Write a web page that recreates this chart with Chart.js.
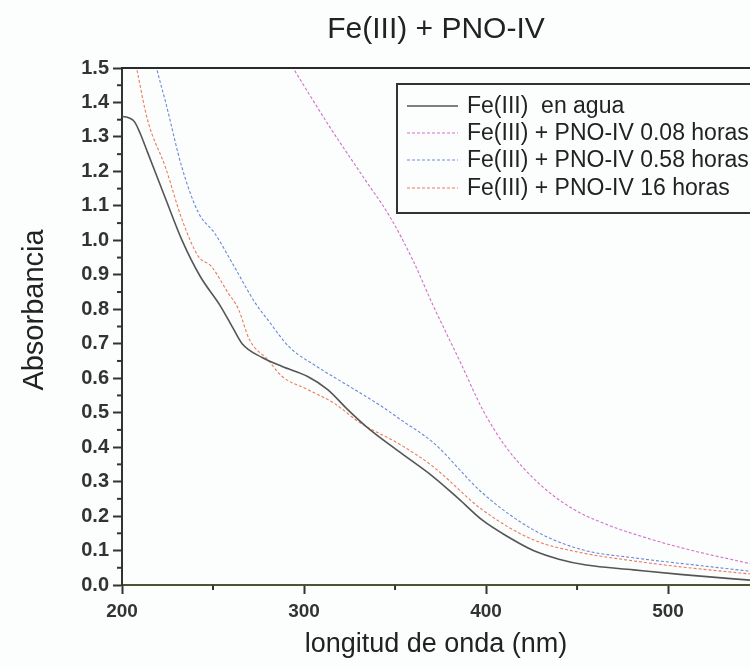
<!DOCTYPE html>
<html><head><meta charset="utf-8">
<script src="https://cdn.jsdelivr.net/npm/chart.js@4/dist/chart.umd.min.js"></script>
<style>html,body{margin:0;padding:0;background:#fcfdfd}</style>
</head><body>
<canvas id="c" width="750" height="669"></canvas>
<script>
const chartTitle = 'Fe(III) + PNO-IV';
const xAxisTitle = 'longitud de onda (nm)';
const yAxisTitle = 'Absorbancia';
const seriesNames = ['Fe(III)  en agua', 'Fe(III) + PNO-IV 0.08 horas', 'Fe(III) + PNO-IV 0.58 horas', 'Fe(III) + PNO-IV 16 horas'];
const seriesColors = ['#555555', '#d66fcb', '#6b88d8', '#ee7a5c'];

const aguaNm  = [200, 204, 207, 210, 214, 224, 233, 243, 254, 261, 266, 277, 288, 302, 313, 324, 335, 353, 371, 385, 398, 412, 426, 440, 455, 481, 508, 545];
const aguaAbs = [1.36, 1.355, 1.343, 1.31, 1.256, 1.12, 1.00, 0.895, 0.81, 0.745, 0.70, 0.66, 0.634, 0.605, 0.567, 0.509, 0.456, 0.384, 0.314, 0.25, 0.188, 0.14, 0.10, 0.075, 0.058, 0.044, 0.030, 0.014];

const h008Nm  = [292, 314, 333, 347, 360, 371, 386, 398, 411, 430, 448, 466, 483, 508, 545];
const h008Abs = [1.517, 1.33, 1.18, 1.07, 0.94, 0.81, 0.645, 0.51, 0.40, 0.29, 0.22, 0.176, 0.145, 0.107, 0.062];

const h058Nm  = [217, 219, 224, 233, 242, 251, 261, 273, 280, 292, 307, 325, 343, 353, 371, 398, 426, 453, 481, 508, 545];
const h058Abs = [1.55, 1.5, 1.40, 1.21, 1.08, 1.02, 0.93, 0.82, 0.77, 0.69, 0.634, 0.576, 0.517, 0.48, 0.413, 0.267, 0.16, 0.102, 0.079, 0.062, 0.040];

const h16Nm  = [206, 208, 214, 224, 233, 242, 249, 258, 264, 270, 280, 288, 302, 316, 331, 353, 371, 398, 426, 453, 481, 508, 545];
const h16Abs = [1.55, 1.5, 1.35, 1.21, 1.06, 0.953, 0.925, 0.85, 0.80, 0.712, 0.654, 0.605, 0.567, 0.529, 0.47, 0.407, 0.343, 0.218, 0.131, 0.093, 0.070, 0.052, 0.032];

const xMin = 200, xMax = 545, xStep = 100, xMinor = [250, 350, 450];
const yMin = 0, yMax = 1.5, yStep = 0.1;

const FONT = '"Liberation Sans", Arial, sans-serif';

function pts(xs, ys) { return xs.map((x, i) => ({x: x, y: ys[i]})); }

const seriesData = [pts(aguaNm, aguaAbs), pts(h008Nm, h008Abs), pts(h058Nm, h058Abs), pts(h16Nm, h16Abs)];
const dashes = [[], [3, 2], [3, 2], [3, 2]];
const widths = [1.6, 1.1, 1.1, 1.1];

const decor = {
  id: 'decor',
  afterDraw(chart) {
    const ctx = chart.ctx, a = chart.chartArea;
    const xs = chart.scales.x, ys = chart.scales.y;
    ctx.save();
    // top frame
    ctx.strokeStyle = '#2a2a2a'; ctx.lineWidth = 2;
    ctx.beginPath(); ctx.moveTo(a.left - 1, a.top); ctx.lineTo(chart.width, a.top); ctx.stroke();
    // minor ticks
    ctx.strokeStyle = '#333'; ctx.lineWidth = 2;
    for (let v = 0.05; v < yMax; v += 0.1) {
      const p = ys.getPixelForValue(v);
      ctx.beginPath(); ctx.moveTo(a.left - 5, p); ctx.lineTo(a.left, p); ctx.stroke();
    }
    xMinor.forEach(v => {
      const p = xs.getPixelForValue(v);
      ctx.beginPath(); ctx.moveTo(p, a.bottom); ctx.lineTo(p, a.bottom + 5); ctx.stroke();
    });
    // y axis title
    ctx.save();
    ctx.translate(35, 310);
    ctx.rotate(-Math.PI / 2);
    ctx.font = '29px ' + FONT;
    ctx.fillStyle = '#222';
    ctx.textAlign = 'center'; ctx.textBaseline = 'middle';
    ctx.fillText(yAxisTitle, 0, 0);
    ctx.restore();
    // legend
    const lx = 397, ly = 84, lh = 129;
    ctx.strokeStyle = '#333'; ctx.lineWidth = 2;
    ctx.strokeRect(lx, ly, chart.width - lx + 5, lh);
    const rows = [106, 133, 160, 188];
    ctx.font = '23px ' + FONT;
    ctx.textBaseline = 'middle';
    ctx.textAlign = 'left';
    seriesNames.forEach((n, i) => {
      ctx.strokeStyle = seriesColors[i];
      ctx.lineWidth = widths[i];
      ctx.setLineDash(dashes[i]);
      ctx.beginPath(); ctx.moveTo(407, rows[i]); ctx.lineTo(458, rows[i]); ctx.stroke();
      ctx.setLineDash([]);
      ctx.fillStyle = '#222';
      ctx.fillText(n, 467, rows[i] + 1);
    });
    ctx.restore();
  }
};

new Chart(document.getElementById('c'), {
  type: 'line',
  data: {
    datasets: seriesNames.map((n, i) => ({
      label: n,
      data: seriesData[i],
      borderColor: seriesColors[i],
      borderWidth: widths[i],
      borderDash: dashes[i],
      pointRadius: 0,
      fill: false,
      cubicInterpolationMode: 'monotone'
    }))
  },
  options: {
    responsive: false,
    devicePixelRatio: 1,
    animation: false,
    layout: {padding: {left: 0, right: 0, top: 0, bottom: 0}},
    plugins: {
      legend: {display: false},
      tooltip: {enabled: false},
      title: {
        display: true, text: chartTitle, fullSize: false,
        color: '#222',
        font: {family: FONT, size: 30, weight: 'normal'},
        padding: {top: 12, bottom: 20}
      }
    },
    scales: {
      x: {
        type: 'linear', min: xMin, max: xMax,
        afterFit(s) { s.height = 84; },
        ticks: {stepSize: xStep, includeBounds: false, maxRotation: 0, autoSkip: false,
          color: '#333', padding: 6,
          font: {family: FONT, size: 19, weight: 'bold'}},
        grid: {drawOnChartArea: false, tickLength: 9, tickColor: '#333', tickWidth: 2},
        border: {color: '#4a5535', width: 2},
        title: {display: true, text: xAxisTitle, color: '#222',
          font: {family: FONT, size: 27},
          padding: {top: 2, bottom: 8}}
      },
      y: {
        type: 'linear', min: yMin, max: yMax,
        afterFit(s) { s.width = 122; },
        ticks: {stepSize: yStep, color: '#333', padding: 4,
          callback: v => Number(v).toFixed(1),
          font: {family: FONT, size: 20, weight: 'bold'}},
        grid: {drawOnChartArea: false, tickLength: 9, tickColor: '#333', tickWidth: 2},
        border: {color: '#333', width: 2},
        title: {display: false}
      }
    }
  },
  plugins: [decor]
});
</script>
</body></html>
